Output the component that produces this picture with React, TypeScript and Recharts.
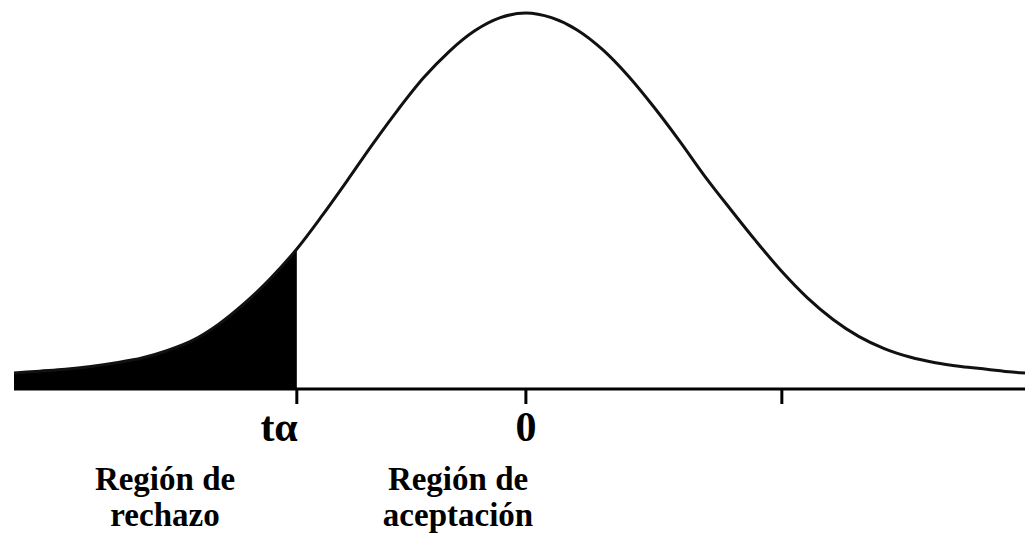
import { Area, ComposedChart, Line, XAxis, YAxis } from "recharts"

const xs = [
  -4.0, -3.8, -3.6, -3.4, -3.2, -3.0, -2.8, -2.6, -2.4, -2.2, -2.0, -1.79, -1.6, -1.4, -1.2, -1.0, -0.8, -0.6, -0.4, -0.2,
  0, 0.2, 0.4, 0.6, 0.8, 1.0, 1.2, 1.4, 1.6, 1.8, 2.0, 2.2, 2.4, 2.6, 2.8, 3.0, 3.2, 3.4, 3.6, 3.8, 3.9,
]
const density = [
  0.017, 0.019, 0.021, 0.024, 0.028, 0.033, 0.041, 0.052, 0.069, 0.091, 0.117, 0.149, 0.183, 0.221, 0.26, 0.297, 0.331,
  0.359, 0.381, 0.395, 0.4, 0.395, 0.382, 0.361, 0.333, 0.3, 0.264, 0.226, 0.191, 0.157, 0.125, 0.097, 0.074, 0.056,
  0.043, 0.034, 0.028, 0.024, 0.021, 0.018, 0.017,
]

const tAlpha = -1.79
const tickValues = [tAlpha, 0, 2]
const tickLabels = ["tα", "0", ""]

const rejectLabel = ["Región de", "rechazo"]
const acceptLabel = ["Región de", "aceptación"]

const data = xs.map((x, i) => ({
  x,
  y: density[i],
  tail: x <= tAlpha ? density[i] : null,
}))

const serif = "'Liberation Serif', 'Times New Roman', serif"

function AxisTick(props: any) {
  const { x, y, payload } = props
  const label = tickLabels[tickValues.indexOf(payload.value)]
  if (!label) return null
  const isAlpha = payload.value === tAlpha
  return (
    <text
      x={isAlpha ? x + 1 : x}
      y={y + 35}
      textAnchor={isAlpha ? "end" : "middle"}
      fontFamily={serif}
      fontWeight="bold"
      fontSize={42}
      fill="#000"
    >
      {label}
    </text>
  )
}

function RegionLabel({ lines, center }: { lines: string[]; center: number }) {
  return (
    <div
      style={{
        position: "absolute",
        left: center - 110,
        top: 461,
        width: 220,
        textAlign: "center",
        fontFamily: serif,
        fontWeight: "bold",
        fontSize: 33,
        lineHeight: "36px",
        color: "#000",
      }}
    >
      {lines.map((l) => (
        <div key={l}>{l}</div>
      ))}
    </div>
  )
}

export default function App() {
  return (
    <div style={{ position: "absolute", left: 0, top: 0, width: 1028, height: 540, background: "#fff" }}>
      <ComposedChart width={1028} height={540} data={data} margin={{ top: 13, right: 3, bottom: 121, left: 14 }}>
        <XAxis
          type="number"
          dataKey="x"
          domain={[-4, 3.9]}
          ticks={tickValues}
          interval={0}
          height={30}
          axisLine={{ stroke: "#000", strokeWidth: 3 }}
          tickLine={{ stroke: "#000", strokeWidth: 3 }}
          tickSize={15}
          tick={<AxisTick />}
        />
        <YAxis hide domain={[0, 0.4]} />
        {/* rejection tail, filled up to tα */}
        <Area
          type="monotone"
          dataKey="tail"
          stroke="#000"
          strokeWidth={1}
          fill="#000"
          fillOpacity={1}
          isAnimationActive={false}
        />
        <Line type="monotone" dataKey="y" stroke="#111" strokeWidth={3} dot={false} isAnimationActive={false} />
      </ComposedChart>
      <RegionLabel lines={rejectLabel} center={165} />
      <RegionLabel lines={acceptLabel} center={458} />
    </div>
  )
}
